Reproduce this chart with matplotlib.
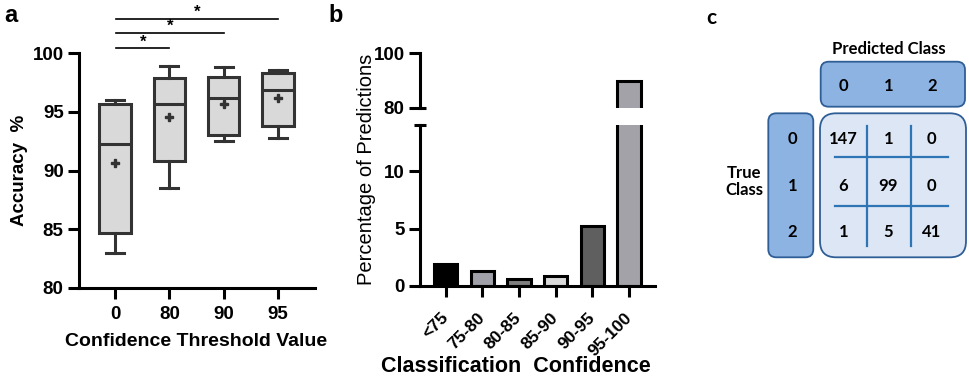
import matplotlib
matplotlib.use("Agg")
import matplotlib.pyplot as plt
from matplotlib.patches import FancyBboxPatch

# ---------------- data ----------------
thresholds = ["0", "80", "90", "95"]
acc_whislo = [83.0, 88.5, 92.5, 92.8]
acc_q1 = [84.7, 90.8, 93.0, 93.8]
acc_med = [92.3, 95.7, 96.2, 96.9]
acc_q3 = [95.7, 97.9, 98.0, 98.3]
acc_whishi = [96.0, 98.9, 98.8, 98.6]
acc_mean = [90.6, 94.6, 95.7, 96.2]
sig_pairs = [(0, 3), (0, 2), (0, 1)]
sig_labels = ["*", "*", "*"]

conf_bins = ["<75", "75-80", "80-85", "85-90", "90-95", "95-100"]
conf_pct = [1.9, 1.3, 0.6, 0.9, 5.2, 89.7]
bar_colors = ["#000000", "#a0a0a8", "#7f7f7f", "#d9d9d9", "#5f5f5f", "#a3a2a8"]

class_labels = ["0", "1", "2"]
conf_matrix = [[147, 1, 0],
               [6, 99, 0],
               [1, 5, 41]]

# ---------------- figure ----------------
W, H = 969, 378
fig = plt.figure(figsize=(W / 100, H / 100), dpi=100)
AR = "Liberation Sans"
CAL = "Lato"
dark = "#333333"
LW = 2.2


def rect(l, t, r, b):
    return [l / W, 1 - b / H, (r - l) / W, (b - t) / H]


# ---------------- panel a ----------------
ax = fig.add_axes(rect(79, 53.3, 315, 287.7))
stats = []
for i in range(len(thresholds)):
    stats.append(dict(med=acc_med[i], q1=acc_q1[i], q3=acc_q3[i],
                      whislo=acc_whislo[i], whishi=acc_whishi[i],
                      mean=acc_mean[i], fliers=[]))
ax.bxp(stats, positions=range(len(thresholds)), widths=0.58, capwidths=0.33,
       patch_artist=True, showmeans=True, showfliers=False,
       boxprops=dict(facecolor="#d9d9d9", edgecolor=dark, linewidth=LW),
       medianprops=dict(color=dark, linewidth=LW),
       whiskerprops=dict(color=dark, linewidth=LW),
       capprops=dict(color=dark, linewidth=LW),
       meanprops=dict(marker="P", markerfacecolor=dark, markeredgecolor=dark,
                      markersize=6))
ax.set_xlim(-0.663, 3.68)
ax.set_ylim(80, 100)
ax.set_yticks([80, 85, 90, 95, 100])
ax.set_xticks(range(len(thresholds)))
ax.set_xticklabels(thresholds)
for s in ["top", "right"]:
    ax.spines[s].set_visible(False)
for s in ["left", "bottom"]:
    ax.spines[s].set_linewidth(LW)
ax.tick_params(length=8, width=LW, labelsize=13.5, pad=3)
ax.tick_params(axis="x", pad=5)
for lab in ax.get_xticklabels() + ax.get_yticklabels():
    lab.set_fontfamily(AR)
    lab.set_fontweight("bold")
ax.set_ylabel("Accuracy  %", fontsize=13.5, fontweight="bold", fontfamily=AR)
ax.yaxis.set_label_coords(-0.215, 0.5)
fig.text(196 / W, 1 - 341 / H, "Confidence Threshold Value", fontsize=14,
         fontweight="bold", fontfamily=AR, ha="center", va="center")
sig_y = [102.93, 101.73, 100.43]
for (a, b), lab, y in zip(sig_pairs, sig_labels, sig_y):
    ax.plot([a + 0.02, b], [y, y], color="black", lw=1.2, clip_on=False)
    ax.text((a + b) / 2 + 0.02, y + 0.55, lab, fontsize=12, fontweight="bold",
            ha="center", va="center", fontfamily=AR)
fig.text(11 / W, 1 - 16 / H, "a", fontsize=17, fontweight="bold",
         fontfamily=AR, ha="center", va="center")

# ---------------- panel b ----------------
axl = fig.add_axes(rect(420, 125.3, 655, 286))
axu = fig.add_axes(rect(420, 53.3, 655, 107.7))
x = list(range(len(conf_bins)))
for a_ in (axl, axu):
    a_.bar(x, conf_pct, width=0.64, color=bar_colors, edgecolor="black",
           linewidth=LW)
    a_.set_xlim(-0.70, 5.71)
    a_.spines["top"].set_visible(False)
    a_.spines["right"].set_visible(False)
    a_.spines["left"].set_linewidth(LW)
    a_.spines["bottom"].set_linewidth(LW)
    a_.tick_params(length=8, width=LW, labelsize=13.5, pad=3)
axl.set_ylim(0, 14)
axu.set_ylim(80, 100)
axu.spines["bottom"].set_visible(False)
axu.set_xticks([])
axu.set_yticks([80, 100])
axl.set_yticks([0, 5, 10])
axl.set_xticks(x)
axl.set_xticklabels(conf_bins, rotation=45, ha="right", va="center",
                    rotation_mode="anchor")
axl.tick_params(axis="x", labelsize=12.5, pad=13)
for lab in (axl.get_xticklabels() + axl.get_yticklabels()
            + axu.get_yticklabels()):
    lab.set_fontfamily(AR)
    lab.set_fontweight("bold")
# break marks
axl.plot([-0.025, 0.025], [1, 1], transform=axl.transAxes, color="black",
         lw=LW, clip_on=False, solid_capstyle="butt")
axu.plot([0, 0.025], [0, 0], transform=axu.transAxes, color="black",
         lw=LW, clip_on=False, solid_capstyle="butt")
fig.text(366 / W, 1 - 169 / H, "Percentage of Predictions", fontsize=14.5,
         fontfamily=AR, rotation=90, ha="center", va="center")
fig.text(516 / W, 1 - 366 / H, "Classification  Confidence", fontsize=15.5,
         fontweight="bold", fontfamily=AR, ha="center", va="center")
fig.text(336 / W, 1 - 16 / H, "b", fontsize=17, fontweight="bold",
         fontfamily=AR, ha="center", va="center")

# ---------------- panel c ----------------
axc = fig.add_axes([680 / W, 0, (W - 680) / W, 1])
axc.set_xlim(680, W)
axc.set_ylim(H, 0)
axc.axis("off")
head_face = "#8db3e2"
cell_face = "#dce6f4"
edge = "#2f5e96"
gridc = "#2e75b6"


def rbox(x0, y0, w, h, fc, r):
    p = FancyBboxPatch((x0, y0), w, h,
                       boxstyle="round,pad=0,rounding_size=%g" % r,
                       facecolor=fc, edgecolor=edge, linewidth=1.3)
    axc.add_patch(p)


rbox(820.7, 61.7, 144.3, 45, head_face, 8)
rbox(768.3, 113.3, 45, 144, head_face, 8)
rbox(820, 113.3, 146, 144, cell_face, 16)
col_x = [843.3, 888.3, 931.7]
row_y = [139.3, 185.7, 231.7]
axc.plot([866.7, 866.7], [126, 246], color=gridc, lw=1.6)
axc.plot([911, 911], [126, 246], color=gridc, lw=1.6)
axc.plot([835, 948.3], [156.7, 156.7], color=gridc, lw=1.6)
axc.plot([835, 948.3], [205.7, 205.7], color=gridc, lw=1.6)
fs = 12
for j, lab in enumerate(class_labels):
    axc.text(col_x[j], 86, lab, fontsize=fs, fontweight="bold", fontfamily=CAL,
             ha="center", va="center")
    axc.text(792.3, row_y[j], lab, fontsize=fs, fontweight="bold",
             fontfamily=CAL, ha="center", va="center")
for i in range(3):
    for j in range(3):
        axc.text(col_x[j], row_y[i], str(conf_matrix[i][j]), fontsize=fs,
                 fontweight="bold", fontfamily=CAL, ha="center", va="center")
axc.text(889.3, 49.3, "Predicted Class", fontsize=fs, fontweight="bold",
         fontfamily=CAL, ha="center", va="center")
axc.text(744, 181.7, "True\nClass", fontsize=fs, fontweight="bold",
         fontfamily=CAL, ha="center", va="center", linespacing=1.1)
axc.text(711.7, 18.3, "c", fontsize=15, fontweight="bold", fontfamily=CAL,
         ha="center", va="center")

fig.savefig("out.png", dpi=100)
